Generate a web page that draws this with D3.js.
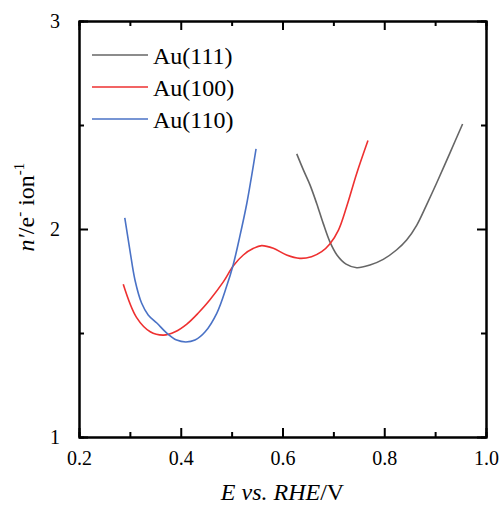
<!DOCTYPE html>
<html>
<head>
<meta charset="utf-8">
<script src="https://cdn.jsdelivr.net/npm/d3@7"></script>
<style>
  body { margin: 0; background: #fff; }
</style>
</head>
<body>
<svg id="chart" width="499" height="505"></svg>
<script>
// data: [E vs RHE (V), n' (e- per ion)]
const au111 = [[0.628,2.361],[0.641,2.284],[0.654,2.212],[0.667,2.124],[0.680,2.027],[0.693,1.939],
  [0.707,1.875],[0.725,1.831],[0.746,1.814],[0.772,1.827],[0.798,1.854],[0.824,1.899],[0.844,1.947],
  [0.864,2.019],[0.883,2.115],[0.903,2.221],[0.929,2.365],[0.954,2.505]];
const au100 = [[0.287,1.734],[0.313,1.575],[0.340,1.506],[0.366,1.490],[0.389,1.506],[0.412,1.543],
  [0.434,1.595],[0.457,1.659],[0.484,1.747],[0.503,1.822],[0.523,1.875],[0.543,1.907],[0.559,1.920],
  [0.582,1.907],[0.608,1.875],[0.634,1.859],[0.657,1.867],[0.677,1.891],[0.693,1.928],[0.710,1.995],
  [0.726,2.107],[0.746,2.268],[0.768,2.425]];
const au110 = [[0.290,2.054],[0.300,1.899],[0.310,1.755],[0.323,1.644],[0.336,1.587],[0.353,1.548],
  [0.372,1.501],[0.392,1.466],[0.410,1.457],[0.428,1.466],[0.448,1.506],[0.471,1.596],[0.490,1.723],
  [0.503,1.827],[0.516,1.963],[0.530,2.125],[0.539,2.251],[0.548,2.385]];
const seriesNames = ['Au(111)', 'Au(100)', 'Au(110)'];
const seriesColors = ['#666666', '#ee3030', '#4a72c6'];
const xTicks = [0.2, 0.4, 0.6, 0.8, 1.0];
const xMinor = [0.3, 0.5, 0.7, 0.9];
const yTicks = [1, 2, 3];
const yMinor = [1.5, 2.5];

const serif = "'Liberation Serif', 'Times New Roman', Times, serif";
const svg = d3.select('#chart').attr('font-family', serif);
const pLeft = 79, pRight = 486, pTop = 21, pBottom = 437;

const x = d3.scaleLinear().domain([0.2, 1.0]).range([pLeft, pRight]);
const y = d3.scaleLinear().domain([1, 3]).range([pBottom, pTop]);

// minor ticks first (inward), then major axes
function styleAxis(g) {
  g.select('.domain').attr('stroke', '#000').attr('stroke-width', 2);
  g.selectAll('.tick line').attr('stroke', '#000').attr('stroke-width', 2);
  g.selectAll('text').remove();
}

svg.append('g').attr('transform', `translate(0,${pBottom})`)
  .call(d3.axisBottom(x).tickValues(xMinor).tickSize(-5)).call(styleAxis);
svg.append('g').attr('transform', `translate(0,${pTop})`)
  .call(d3.axisTop(x).tickValues(xMinor).tickSize(-5)).call(styleAxis);
svg.append('g').attr('transform', `translate(${pLeft},0)`)
  .call(d3.axisLeft(y).tickValues(yMinor).tickSize(-5)).call(styleAxis);
svg.append('g').attr('transform', `translate(${pRight},0)`)
  .call(d3.axisRight(y).tickValues(yMinor).tickSize(-5)).call(styleAxis);

const xAxis = svg.append('g').attr('transform', `translate(0,${pBottom})`)
  .call(d3.axisBottom(x).tickValues(xTicks).tickSizeInner(-9).tickSizeOuter(0).tickPadding(14)
    .tickFormat(d3.format('.1f')));
xAxis.select('.domain').attr('stroke-width', 2);
xAxis.selectAll('.tick line').attr('stroke-width', 2);
xAxis.selectAll('text').attr('font-size', 20).attr('font-family', serif).attr('dy', '0.71em');

svg.append('g').attr('transform', `translate(0,${pTop})`)
  .call(d3.axisTop(x).tickValues(xTicks).tickSizeInner(-9).tickSizeOuter(0)).call(styleAxis);

const yAxis = svg.append('g').attr('transform', `translate(${pLeft},0)`)
  .call(d3.axisLeft(y).tickValues(yTicks).tickSizeInner(-9).tickSizeOuter(0).tickPadding(19)
    .tickFormat(d3.format('d')));
yAxis.select('.domain').attr('stroke-width', 2);
yAxis.selectAll('.tick line').attr('stroke-width', 2);
yAxis.selectAll('text').attr('font-size', 20).attr('font-family', serif);

svg.append('g').attr('transform', `translate(${pRight},0)`)
  .call(d3.axisRight(y).tickValues(yTicks).tickSizeInner(-9).tickSizeOuter(0)).call(styleAxis);

// curves
const line = d3.line()
  .x(d => x(d[0]))
  .y(d => y(d[1]))
  .curve(d3.curveCatmullRom.alpha(0.5));

[au111, au100, au110].forEach((s, i) => {
  svg.append('path')
    .datum(s)
    .attr('fill', 'none')
    .attr('stroke', seriesColors[i])
    .attr('stroke-width', 1.6)
    .attr('d', line);
});

// legend
seriesNames.forEach((name, i) => {
  const ly = 55 + i * 32;
  svg.append('line')
    .attr('x1', 92).attr('x2', 148)
    .attr('y1', ly).attr('y2', ly)
    .attr('stroke', seriesColors[i])
    .attr('stroke-width', 1.6);
  svg.append('text')
    .attr('x', 153).attr('y', ly + 9)
    .attr('font-size', 24)
    .text(name);
});

// axis titles
const xt = svg.append('text')
  .attr('x', (pLeft + pRight) / 2)
  .attr('y', 500)
  .attr('text-anchor', 'middle')
  .attr('font-size', 24);
xt.append('tspan').attr('font-style', 'italic').text('E vs. RHE');
xt.append('tspan').text('/V');

const yt = svg.append('text')
  .attr('transform', `translate(34,207) rotate(-90)`)
  .attr('text-anchor', 'middle')
  .attr('font-size', 24);
yt.append('tspan').attr('font-style', 'italic').text('n′');
yt.append('tspan').text('/e');
yt.append('tspan').attr('font-size', 15).attr('dy', -10).text('-');
yt.append('tspan').attr('dy', 10).text(' ion');
yt.append('tspan').attr('font-size', 15).attr('dy', -10).text('-1');
</script>
</body>
</html>
